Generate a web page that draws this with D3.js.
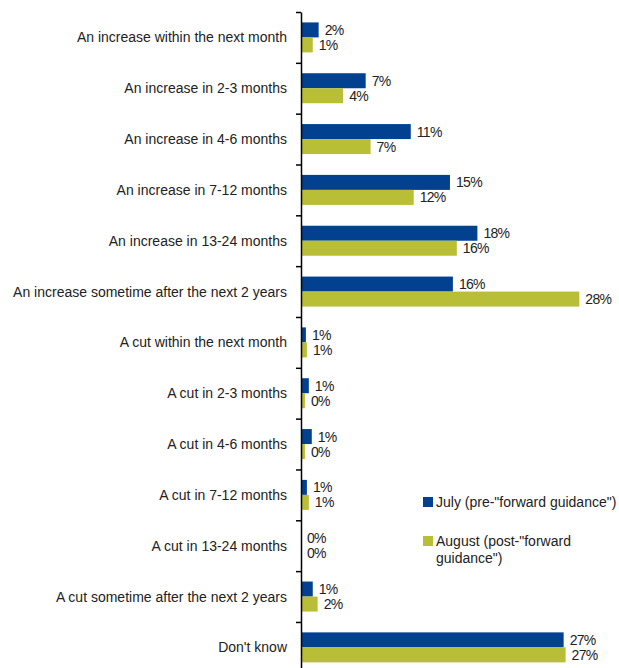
<!DOCTYPE html>
<html>
<head>
<meta charset="utf-8">
<script src="https://cdn.jsdelivr.net/npm/d3@7"></script>
<style>
  body { margin: 0; background: #fff; }
  text { font-family: "Liberation Sans", Arial, sans-serif; fill: #222; }
</style>
</head>
<body>
<svg></svg>
<script>
var width = 619;
var height = 668;

var categories = [
    "An increase within the next month",
    "An increase in 2-3 months",
    "An increase in 4-6 months",
    "An increase in 7-12 months",
    "An increase in 13-24 months",
    "An increase sometime after the next 2 years",
    "A cut within the next month",
    "A cut in 2-3 months",
    "A cut in 4-6 months",
    "A cut in 7-12 months",
    "A cut in 13-24 months",
    "A cut sometime after the next 2 years",
    "Don't know"
];
// bar lengths (estimated) and the printed labels
var july = [1.8, 6.6, 11.2, 15.2, 18.0, 15.5, 0.5, 0.8, 1.1, 0.6, 0, 1.2, 26.8];
var august = [1.2, 4.3, 7.1, 11.5, 15.9, 28.4, 0.6, 0.4, 0.4, 0.8, 0, 1.7, 27.0];
var julyLabels = ["2%", "7%", "11%", "15%", "18%", "16%", "1%", "1%", "1%", "1%", "0%", "1%", "27%"];
var augustLabels = ["1%", "4%", "7%", "12%", "16%", "28%", "1%", "0%", "0%", "1%", "0%", "2%", "27%"];
var seriesNames = ['July (pre-"forward guidance")', 'August (post-"forward', 'guidance")'];

var axisX = 301;
var plotTop = 12;
var step = 50.83;
var barH = 15;
var navy = "#02418f";
var olive = "#b8be36";
var fontSize = 14;

var svg = d3.select("svg")
    .attr("width", width)
    .attr("height", height);

var xScale = d3.scaleLinear()
    .domain([0, 30])
    .range([axisX, axisX + 294]);

var yScale = d3.scaleBand()
    .domain(categories)
    .range([plotTop, plotTop + step * categories.length]);

var tickScale = d3.scaleLinear()
    .domain([0, categories.length])
    .range([plotTop, plotTop + step * categories.length]);

var offset = (yScale.bandwidth() - 2 * barH) / 2;

// july bars
svg.append("g")
    .selectAll("rect")
    .data(categories)
    .enter()
    .append("rect")
    .attr("x", xScale(0))
    .attr("y", d => yScale(d) + offset)
    .attr("width", (d, i) => xScale(july[i]) - xScale(0))
    .attr("height", barH)
    .attr("fill", navy);

// august bars
svg.append("g")
    .selectAll("rect")
    .data(categories)
    .enter()
    .append("rect")
    .attr("x", xScale(0))
    .attr("y", d => yScale(d) + offset + barH)
    .attr("width", (d, i) => xScale(august[i]) - xScale(0))
    .attr("height", barH)
    .attr("fill", olive);

// value labels
svg.append("g")
    .selectAll("text")
    .data(categories)
    .enter()
    .append("text")
    .attr("x", (d, i) => xScale(july[i]) + 6)
    .attr("y", d => yScale(d) + offset + barH / 2)
    .attr("dy", "0.36em")
    .attr("font-size", fontSize)
    .attr("letter-spacing", -0.7)
    .text((d, i) => julyLabels[i]);

svg.append("g")
    .selectAll("text")
    .data(categories)
    .enter()
    .append("text")
    .attr("x", (d, i) => xScale(august[i]) + 6)
    .attr("y", d => yScale(d) + offset + barH * 1.5)
    .attr("dy", "0.36em")
    .attr("font-size", fontSize)
    .attr("letter-spacing", -0.7)
    .text((d, i) => augustLabels[i]);

// category labels
svg.append("g")
    .selectAll("text")
    .data(categories)
    .enter()
    .append("text")
    .attr("x", axisX - 14)
    .attr("y", d => yScale(d) + yScale.bandwidth() / 2)
    .attr("dy", "0.36em")
    .attr("text-anchor", "end")
    .attr("font-size", fontSize)
    .text(d => d);

// vertical axis with ticks between categories
var yAxis = d3.axisLeft(tickScale)
    .tickValues(d3.range(0, categories.length + 1))
    .tickSize(5)
    .tickSizeOuter(0)
    .tickFormat("");

var axisG = svg.append("g")
    .attr("transform", "translate(" + axisX + ",0)")
    .call(yAxis);
axisG.selectAll("path, line")
    .attr("stroke", "#000")
    .attr("stroke-width", 1.5);

// legend
var legend = svg.append("g");
legend.append("rect")
    .attr("x", 423).attr("y", 497)
    .attr("width", 10).attr("height", 10)
    .attr("fill", navy);
legend.append("text")
    .attr("x", 436).attr("y", 502)
    .attr("dy", "0.36em")
    .attr("font-size", fontSize)
    .text(seriesNames[0]);
legend.append("rect")
    .attr("x", 423).attr("y", 536)
    .attr("width", 10).attr("height", 10)
    .attr("fill", olive);
legend.append("text")
    .attr("x", 436).attr("y", 541)
    .attr("dy", "0.36em")
    .attr("font-size", fontSize)
    .text(seriesNames[1]);
legend.append("text")
    .attr("x", 436).attr("y", 558)
    .attr("dy", "0.36em")
    .attr("font-size", fontSize)
    .text(seriesNames[2]);
</script>
</body>
</html>
